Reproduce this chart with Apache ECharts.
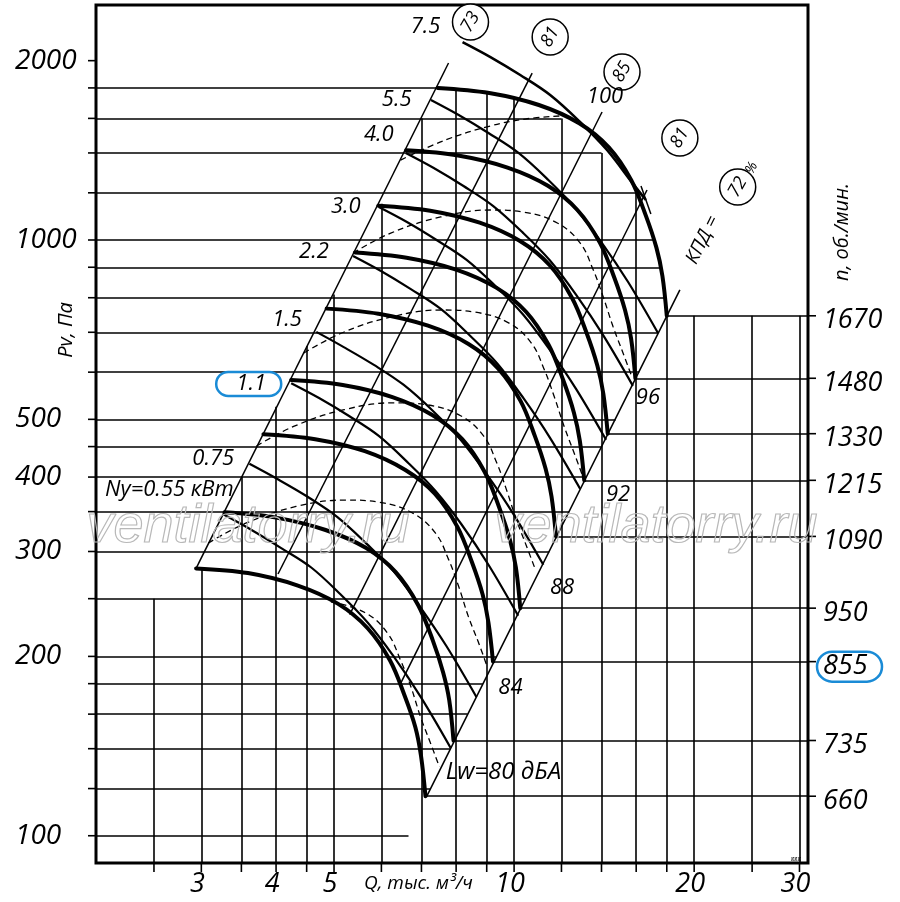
<!DOCTYPE html>
<html>
<head>
<meta charset="utf-8">
<title>Pv–Q</title>
<script src="https://cdn.jsdelivr.net/npm/echarts@6/dist/echarts.min.js"></script>
<style>
  html, body { margin: 0; padding: 0; background: #fff; }
  #chart { width: 900px; height: 902px; }
</style>
</head>
<body>
<div id="chart"></div>
<script>
// axis ranges, Q тыс. м3/ч and Pv Па (both log)
var qMin = 2.0, qMax = 31;
var pMin = 90, pMax = 2480;

// thick Pv-Q curves, one per speed n (об./мин.)
var speeds = [660, 735, 855, 950, 1090, 1215, 1330, 1480, 1670];
var q660  = [2.94, 3.59, 4.35, 5.08, 5.69, 6.20, 6.56, 6.84, 6.99, 7.11];
var p660  = [281, 276, 263, 245, 223, 197, 172, 152, 136, 116.5];
var q735  = [3.28, 4.00, 4.84, 5.66, 6.34, 6.91, 7.31, 7.61, 7.79, 7.92];
var p735  = [349, 342, 326, 304, 277, 244, 213, 188, 169, 144.5];
var q855  = [3.81, 4.65, 5.63, 6.58, 7.37, 8.04, 8.50, 8.86, 9.06, 9.22];
var p855  = [472, 463, 442, 411, 375, 330, 288, 254, 228, 196];
var q950  = [4.24, 5.17, 6.26, 7.31, 8.19, 8.93, 9.44, 9.84, 10.07, 10.24];
var p950  = [582, 571, 545, 508, 463, 408, 356, 314, 282, 241];
var q1090 = [4.86, 5.93, 7.18, 8.39, 9.40, 10.25, 10.83, 11.29, 11.55, 11.75];
var p1090 = [767, 752, 718, 669, 609, 537, 469, 413, 371, 318];
var q1215 = [5.42, 6.61, 8.00, 9.35, 10.48, 11.42, 12.08, 12.59, 12.88, 13.10];
var p1215 = [953, 934, 892, 831, 757, 667, 582, 513, 460, 395];
var q1330 = [5.93, 7.24, 8.76, 10.23, 11.47, 12.50, 13.22, 13.78, 14.10, 14.34];
var p1330 = [1142, 1120, 1069, 996, 907, 799, 698, 615, 552, 473];
var q1480 = [6.60, 8.06, 9.75, 11.39, 12.76, 13.91, 14.71, 15.33, 15.69, 15.95];
var p1480 = [1414, 1386, 1323, 1233, 1123, 990, 864, 762, 683, 586];
var q1670 = [7.45, 9.09, 11.0, 12.85, 14.4, 15.7, 16.6, 17.3, 17.7, 18.0];
var p1670 = [1800, 1765, 1685, 1570, 1430, 1260, 1100, 970, 870, 746];

// thin constant-power lines, Ny кВт
var powers = ['Ny=0.55 кВт', '0.75', '1.1', '1.5', '2.2', '3.0', '4.0', '5.5', '7.5'];
var qN055 = [3.27, 3.64, 4.08, 4.58, 5.13, 5.69, 6.29, 6.98, 7.83];
var pN055 = [346, 326, 304, 282, 254, 228, 200, 171, 140.5];
var qN075 = [3.61, 4.02, 4.51, 5.06, 5.67, 6.29, 6.95, 7.71, 8.65];
var pN075 = [421, 397, 371, 343, 309, 278, 243, 208, 171];
var qN110 = [4.24, 4.72, 5.29, 5.94, 6.66, 7.39, 8.17, 9.06, 10.16];
var pN110 = [575, 543, 507, 469, 422, 379, 333, 285, 234];
var qN150 = [4.67, 5.19, 5.83, 6.54, 7.34, 8.14, 8.99, 9.97, 11.19];
var pN150 = [701, 661, 617, 571, 515, 462, 405, 347, 285];
var qN220 = [5.38, 5.99, 6.72, 7.54, 8.45, 9.38, 10.36, 11.49, 12.90];
var pN220 = [940, 887, 827, 766, 690, 620, 543, 465, 382];
var qN300 = [5.94, 6.62, 7.42, 8.33, 9.34, 10.36, 11.45, 12.70, 14.25];
var pN300 = [1136, 1072, 1000, 926, 834, 749, 656, 562, 462];
var qN400 = [6.59, 7.34, 8.23, 9.23, 10.36, 11.49, 12.70, 14.08, 15.80];
var pN400 = [1400, 1321, 1232, 1140, 1027, 923, 809, 693, 569];
var qN550 = [7.26, 8.08, 9.06, 10.17, 11.41, 12.65, 13.98, 15.51, 17.40];
var pN550 = [1718, 1621, 1512, 1400, 1261, 1132, 993, 850, 698];
var qN750 = [8.20, 9.13, 10.24, 11.49, 12.89, 14.30, 15.81, 16.61];
var pN750 = [2149, 2028, 1892, 1751, 1578, 1416, 1242, 1167];
var qN750tick = [16.30, 16.93];
var pN750tick = [1232, 1106];

// dashed curves
var qDa = [6.46, 7.68, 9.13, 10.44, 11.94];
var pDa = [1362, 1472, 1554, 1596, 1615];
var qDb = [5.38, 6.22, 7.54, 9.13, 10.36, 11.81, 12.89, 13.56, 14.09, 14.64, 15.21, 15.74];
var pDb = [951, 1027, 1093, 1123, 1114, 1068, 989, 891, 803, 715, 646, 589];
var qDc = [4.45, 5.15, 6.24, 7.57, 8.58, 9.79, 10.68, 11.24, 11.67, 12.13, 12.60, 13.04];
var pDc = [646, 698, 743, 763, 757, 726, 672, 605, 546, 486, 439, 400];
var qDd = [3.71, 4.29, 5.20, 6.29, 7.14, 8.14, 8.89, 9.35, 9.71, 10.09, 10.48, 10.85];
var pDd = [451, 487, 519, 533, 529, 507, 469, 423, 381, 339, 307, 280];
var qDe = [3.08, 3.57, 4.32, 5.23, 5.94, 6.77, 7.39, 7.77, 8.08, 8.39, 8.72, 9.02];
var pDe = [310, 335, 357, 366, 363, 348, 322, 291, 262, 233, 211, 192];
var qDf = [4.94, 5.63, 6.14, 6.46, 6.72, 6.98, 7.25, 7.50];
var pDf = [247, 237, 219, 197, 178, 158, 143, 130.5];

// straight efficiency lines (КПД, %), bottom and top ends
var effLabels = ['73', '81', '85', '81', '72'];
var effQ0 = [2.94, 4.03, 5.31, 6.44, 7.14];
var effP0 = [281, 275, 235, 179, 116.3];
var effQ1 = [7.77, 10.72, 14.03, 16.68, 18.93];
var effP1 = [1982, 1906, 1640, 1213, 824.5];
var effCircQ = [8.455, 11.49, 15.15, 18.93, 23.65];
var effCircP = [2322, 2191, 1914, 1483, 1227];

// grid: horizontal lines (Pv) with their right ends, vertical lines (Q) with their tops
var gridP = [100, 120, 140, 160, 180, 200, 250, 300, 350, 400, 450, 500, 600, 700, 800, 900, 1000, 1200, 1400, 1600, 1800];
var gridPEndQ = [6.66, 7.24, 7.82, 8.36, 8.87, 9.35, 10.45, 11.45, 12.36, 13.22, 14.02, 14.78, 16.19, 17.4, 18.0, 17.5, 17.1, 16, 14, 12, 7.45];
var gridQ = [2.5, 3, 3.5, 4, 4.5, 5, 6, 7, 8, 9, 10, 12, 14, 16, 18, 20, 25, 30];
var gridQTopP = [250, 282, 400, 525, 664, 810, 1150, 1600, 1785, 1767, 1725, 1600, 1400, 1200, 746, 746, 746, 746];

// tick labels
var yTickLabels = [100, 200, 300, 400, 500, 1000, 2000];
var xTickLabels = [3, 4, 5, 10, 20, 30];

// label anchors (data coordinates)
var powLabQ = [2.653, 3.141, 3.635, 4.173, 4.628, 5.233, 5.94, 6.365, 7.113];
var powLabP = [380.6, 429, 573.4, 734, 954.8, 1136, 1501, 1718, 2277];
var lwLabels = ['Lw=80 дБА', '84', '88', '92', '96', '100'];
var lwQ = [9.60, 9.86, 12.03, 14.92, 16.74, 14.19];
var lwP = [128.1, 177.1, 260.7, 373.4, 543.1, 1738];

var thickQ = [q660, q735, q855, q950, q1090, q1215, q1330, q1480, q1670];
var thickP = [p660, p735, p855, p950, p1090, p1215, p1330, p1480, p1670];
var thinQ = [qN055, qN075, qN110, qN150, qN220, qN300, qN400, qN550, qN750];
var thinP = [pN055, pN075, pN110, pN150, pN220, pN300, pN400, pN550, pN750];
var dashQ = [qDa, qDb, qDc, qDd, qDe, qDf];
var dashP = [pDa, pDb, pDc, pDd, pDe, pDf];

function pts(q, p) {
  return q.map(function (v, i) { return [v, p[i]]; });
}
function last(a) { return a[a.length - 1]; }

var chart = echarts.init(document.getElementById('chart'));

var gridSegs = [];
gridP.forEach(function (p, i) {
  gridSegs.push({ coords: [[qMin, p], [gridPEndQ[i], p]] });
});
gridQ.forEach(function (q, i) {
  gridSegs.push({ coords: [[q, pMin], [q, gridQTopP[i]]] });
});
speeds.forEach(function (n, i) {
  gridSegs.push({ coords: [[last(thickQ[i]), last(thickP[i])], [qMax, last(thickP[i])]] });
});

var effSegs = effQ0.map(function (q, i) {
  return { coords: [[q, effP0[i]], [effQ1[i], effP1[i]]] };
});
effSegs.push({ coords: pts(qN750tick, pN750tick) });

var series = [];
series.push({
  type: 'lines', coordinateSystem: 'cartesian2d', silent: true, z: 1,
  data: gridSegs, lineStyle: { color: '#000', width: 1.6, opacity: 1 }
});
series.push({
  type: 'lines', coordinateSystem: 'cartesian2d', silent: true, z: 2,
  data: effSegs, lineStyle: { color: '#000', width: 1.5, opacity: 1 }
});
dashQ.forEach(function (q, i) {
  series.push({
    type: 'line', data: pts(q, dashP[i]), smooth: 0.4, symbol: 'none', silent: true, z: 3,
    lineStyle: { color: '#000', width: 1.3, type: [6, 4] }
  });
});
thinQ.forEach(function (q, i) {
  series.push({
    type: 'line', data: pts(q, thinP[i]), smooth: 0.35, symbol: 'none', silent: true, z: 4,
    lineStyle: { color: '#000', width: i === 8 ? 2.6 : 2.2 }
  });
});
thickQ.forEach(function (q, i) {
  series.push({
    type: 'line', data: pts(q, thickP[i]), smooth: 0.35, symbol: 'none', silent: true, z: 5,
    lineStyle: { color: '#000', width: 4, cap: 'round' }
  });
});

var hiddenAxis = {
  axisLine: { show: false }, axisTick: { show: false },
  axisLabel: { show: false }, splitLine: { show: false }
};
chart.setOption({
  animation: false,
  backgroundColor: '#fff',
  grid: {
    left: 96, right: 92, top: 5, bottom: 39, show: true,
    borderColor: '#000', borderWidth: 3, backgroundColor: 'rgba(0,0,0,0)'
  },
  xAxis: Object.assign({ type: 'log', logBase: 10, min: qMin, max: qMax }, hiddenAxis),
  yAxis: Object.assign({ type: 'log', logBase: 10, min: pMin, max: pMax }, hiddenAxis),
  series: series
});

// texts, ticks and marks placed through the chart's own scales
function toPx(q, p) {
  return chart.convertToPixel({ xAxisIndex: 0, yAxisIndex: 0 }, [q, p]);
}
var FONT = '"Open Sans", "DejaVu Sans", sans-serif';
var els = [];
function addText(x, y, s, size, align, rot, extra) {
  var st = {
    text: s, x: 0, y: 0, fill: '#000', font: 'italic ' + size + 'px ' + FONT,
    align: align, verticalAlign: 'middle', textAlign: align, textVerticalAlign: 'middle'
  };
  if (extra) { for (var k in extra) st[k] = extra[k]; }
  els.push({ type: 'text', x: x, y: y, rotation: rot || 0, silent: true, z: 60, style: st });
}
function addLine(x1, y1, x2, y2, w) {
  els.push({
    type: 'line', silent: true, z: 40,
    shape: { x1: x1, y1: y1, x2: x2, y2: y2 },
    style: { stroke: '#000', lineWidth: w }
  });
}
function addBox(x, y, w, h, r) {
  els.push({
    type: 'rect', silent: true, z: 55,
    shape: { x: x, y: y, width: w, height: h, r: r },
    style: { fill: 'rgba(0,0,0,0)', stroke: '#1a8bd6', lineWidth: 2.5 }
  });
}

var cornerBL = toPx(qMin, pMin), cornerTR = toPx(qMax, pMax);
var xL = cornerBL[0], yB = cornerBL[1], xR = cornerTR[0];

// left axis ticks and labels
gridP.concat([2000]).forEach(function (p) {
  var y = toPx(qMin, p)[1];
  addLine(xL - 8, y, xL, y, 1.6);
});
yTickLabels.forEach(function (p) {
  addText(15, toPx(qMin, p)[1], String(p), 28, 'left');
});
// bottom axis ticks and labels
gridQ.forEach(function (q) {
  var x = toPx(q, pMin)[0];
  addLine(x, yB, x, yB + 9, 1.6);
});
xTickLabels.forEach(function (q) {
  addText(toPx(q, pMin)[0] - 4, yB + 21, String(q), 27, 'center');
});
addText(toPx(6.92, pMin)[0], yB + 21, 'Q, тыс. м³/ч', 19, 'center');
addText(xR - 12, yB - 5, 'ggg', 6, 'center', 0, { font: '6px ' + FONT });

// right axis: speed lines, ticks and labels
speeds.forEach(function (n, i) {
  var y = toPx(qMax, last(thickP[i]))[1];
  addLine(xR, y, xR + 8, y, 1.6);
  addText(xR + 15, y + 5, String(n), 27, 'left');
  if (n === 855) addBox(xR + 9, y - 10, 65, 30, 15);
});

// axis names
addText(66, 330, 'Pv, Па', 20, 'center', Math.PI / 2);
addText(842, 232, 'n, об./мин.', 20, 'center', Math.PI / 2);

// power labels
powers.forEach(function (s, i) {
  var c = toPx(powLabQ[i], powLabP[i]);
  addText(c[0], c[1], s, 22, 'center');
  if (s === '1.1') addBox(c[0] - 35, c[1] - 12, 65, 24, 12);
});

// noise labels
lwLabels.forEach(function (s, i) {
  var c = toPx(lwQ[i], lwP[i]);
  addText(c[0], c[1], s, i === 0 ? 24 : 22, 'center');
});

// efficiency circles
effLabels.forEach(function (s, i) {
  var c = toPx(effCircQ[i], effCircP[i]);
  els.push({
    type: 'circle', silent: true, z: 55,
    shape: { cx: c[0], cy: c[1], r: 18 },
    style: { fill: '#fff', stroke: '#000', lineWidth: 1.5 }
  });
  addText(c[0], c[1], s, 18, 'center', Math.PI / 3);
});
var kpd = toPx(20.67, 1000);
addText(kpd[0], kpd[1], 'КПД =', 19, 'center', Math.atan(2));
var pct = toPx(24.95, 1321);
addText(pct[0], pct[1], '%', 14, 'center', Math.atan(2));

// watermark
[[248, 527], [656, 527]].forEach(function (c) {
  addText(c[0], c[1], 'ventilatorry.ru', 54, 'center', 0, {
    font: 'italic 54px "Liberation Sans", Arial, sans-serif',
    fill: 'rgba(255,255,255,0)', stroke: '#b8b8b8', lineWidth: 1.2
  });
});

chart.setOption({ graphic: els });
</script>
</body>
</html>
